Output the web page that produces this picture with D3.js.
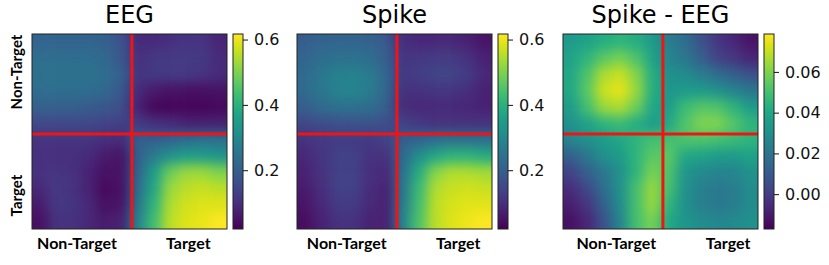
<!DOCTYPE html>
<html>
<head>
<meta charset="utf-8">
<script src="https://cdn.jsdelivr.net/npm/d3@7"></script>
<style>
  body { margin: 0; background: #fff; }
</style>
</head>
<body>
<div id="chart"></div>
<script>
// panel titles and class names
const titles = ["EEG", "Spike", "Spike - EEG"];
const classLabels = ["Non-Target", "Target"];

// boundary between the two classes, in grid cells
const splitAt = 6.15;

// 12x12 similarity matrices (rows top -> bottom)
const eegValues = [
  [0.21, 0.21, 0.21, 0.21, 0.20, 0.17, 0.09, 0.09, 0.10, 0.11, 0.11, 0.08],
  [0.23, 0.23, 0.23, 0.23, 0.22, 0.18, 0.10, 0.12, 0.12, 0.12, 0.12, 0.09],
  [0.24, 0.24, 0.24, 0.24, 0.23, 0.20, 0.11, 0.12, 0.12, 0.12, 0.11, 0.09],
  [0.23, 0.23, 0.23, 0.23, 0.22, 0.18, 0.09, 0.06, 0.05, 0.045, 0.045, 0.05],
  [0.20, 0.20, 0.20, 0.19, 0.18, 0.16, 0.075, 0.03, 0.027, 0.027, 0.027, 0.033],
  [0.15, 0.15, 0.15, 0.15, 0.14, 0.13, 0.12, 0.10, 0.09, 0.075, 0.075, 0.075],
  [0.11, 0.11, 0.11, 0.11, 0.10, 0.09, 0.20, 0.20, 0.21, 0.23, 0.24, 0.24],
  [0.10, 0.10, 0.10, 0.09, 0.06, 0.05, 0.20, 0.27, 0.32, 0.35, 0.35, 0.33],
  [0.105, 0.11, 0.105, 0.075, 0.045, 0.05, 0.21, 0.35, 0.48, 0.525, 0.525, 0.50],
  [0.087, 0.117, 0.105, 0.075, 0.033, 0.045, 0.23, 0.375, 0.525, 0.555, 0.567, 0.555],
  [0.063, 0.117, 0.111, 0.087, 0.045, 0.051, 0.255, 0.405, 0.543, 0.573, 0.585, 0.585],
  [0.045, 0.105, 0.105, 0.087, 0.063, 0.075, 0.285, 0.435, 0.555, 0.585, 0.597, 0.615]
];

const spikeValues = [
  [0.195, 0.207, 0.213, 0.213, 0.207, 0.183, 0.099, 0.087, 0.087, 0.087, 0.075, 0.051],
  [0.213, 0.231, 0.243, 0.243, 0.231, 0.195, 0.111, 0.117, 0.123, 0.123, 0.105, 0.075],
  [0.225, 0.255, 0.279, 0.285, 0.267, 0.213, 0.117, 0.129, 0.141, 0.141, 0.123, 0.087],
  [0.225, 0.255, 0.285, 0.291, 0.267, 0.213, 0.105, 0.105, 0.111, 0.111, 0.099, 0.075],
  [0.195, 0.225, 0.243, 0.243, 0.231, 0.195, 0.093, 0.087, 0.087, 0.087, 0.081, 0.075],
  [0.147, 0.159, 0.165, 0.171, 0.171, 0.159, 0.135, 0.117, 0.105, 0.105, 0.105, 0.105],
  [0.105, 0.117, 0.123, 0.123, 0.117, 0.135, 0.195, 0.213, 0.231, 0.243, 0.243, 0.243],
  [0.087, 0.111, 0.135, 0.135, 0.105, 0.105, 0.225, 0.315, 0.375, 0.405, 0.405, 0.387],
  [0.075, 0.105, 0.135, 0.135, 0.099, 0.087, 0.243, 0.387, 0.507, 0.543, 0.543, 0.531],
  [0.063, 0.099, 0.135, 0.135, 0.093, 0.075, 0.255, 0.423, 0.543, 0.567, 0.573, 0.567],
  [0.051, 0.087, 0.123, 0.123, 0.087, 0.075, 0.267, 0.435, 0.555, 0.579, 0.591, 0.591],
  [0.039, 0.075, 0.105, 0.105, 0.075, 0.075, 0.285, 0.447, 0.555, 0.585, 0.603, 0.615]
];

const diffValues = [
  [0.035, 0.038, 0.042, 0.045, 0.042, 0.035, 0.023, 0.017, 0.007, -0.002, -0.007, -0.012],
  [0.038, 0.045, 0.054, 0.059, 0.052, 0.038, 0.026, 0.021, 0.012, 0.002, -0.002, -0.007],
  [0.040, 0.052, 0.067, 0.071, 0.061, 0.042, 0.031, 0.029, 0.023, 0.017, 0.012, 0.007],
  [0.040, 0.054, 0.071, 0.075, 0.064, 0.042, 0.033, 0.035, 0.035, 0.031, 0.026, 0.021],
  [0.035, 0.050, 0.064, 0.067, 0.057, 0.040, 0.035, 0.048, 0.053, 0.052, 0.045, 0.035],
  [0.031, 0.038, 0.045, 0.048, 0.042, 0.035, 0.040, 0.052, 0.060, 0.060, 0.053, 0.045],
  [0.026, 0.031, 0.035, 0.040, 0.045, 0.050, 0.050, 0.052, 0.052, 0.050, 0.048, 0.045],
  [0.012, 0.021, 0.031, 0.035, 0.045, 0.054, 0.054, 0.040, 0.038, 0.035, 0.035, 0.038],
  [0.002, 0.012, 0.021, 0.031, 0.045, 0.059, 0.052, 0.033, 0.028, 0.026, 0.026, 0.031],
  [-0.005, 0.004, 0.017, 0.031, 0.050, 0.064, 0.050, 0.031, 0.024, 0.021, 0.023, 0.029],
  [-0.009, -0.002, 0.012, 0.029, 0.050, 0.064, 0.045, 0.031, 0.024, 0.021, 0.023, 0.029],
  [-0.013, -0.007, 0.007, 0.026, 0.050, 0.059, 0.040, 0.033, 0.029, 0.027, 0.028, 0.031]
];

// colour limits and colourbar ticks
const eegLimits = [0.02, 0.617];
const spikeLimits = [0.02, 0.617];
const diffLimits = [-0.0171, 0.0786];
const eegTicks = [0.2, 0.4, 0.6];
const spikeTicks = [0.2, 0.4, 0.6];
const diffTicks = [0.00, 0.02, 0.04, 0.06];

// where the class names sit along x (grid units), per panel
const xLabelPos = [[2.77, 9.62], [3.06, 9.92], [3.28, 10.16]];
const yLabelPos = [2.34, 9.94];

const panels = [
  {title: titles[0], values: eegValues, limits: eegLimits, ticks: eegTicks, fmt: ".1f"},
  {title: titles[1], values: spikeValues, limits: spikeLimits, ticks: spikeTicks, fmt: ".1f"},
  {title: titles[2], values: diffValues, limits: diffLimits, ticks: diffTicks, fmt: ".2f"}
];

const W = 829, H = 265;
const panelX = [32, 297, 563];
const plotTop = 34, size = 195;
const cbGap = 201, cbW = 10;
const n = 12;

const svg = d3.select("#chart").append("svg")
    .attr("width", W)
    .attr("height", H)
    .style("font-family", "DejaVu Sans, sans-serif");

const defs = svg.append("defs");
defs.append("filter")
    .attr("id", "smooth")
    .attr("x", "-20%").attr("y", "-20%")
    .attr("width", "140%").attr("height", "140%")
    .attr("color-interpolation-filters", "sRGB")
  .append("feGaussianBlur")
    .attr("stdDeviation", 6);

const pos = d3.scaleLinear().domain([0, n]).range([0, size]);
const band = d3.scaleBand().domain(d3.range(n)).range([0, size]);
const pad = 25;

panels.forEach((p, k) => {
  const g = svg.append("g").attr("transform", `translate(${panelX[k]},${plotTop})`);
  const color = d3.scaleSequential(d3.interpolateViridis).domain(p.limits);

  defs.append("clipPath").attr("id", "clip" + k)
    .append("rect").attr("width", size).attr("height", size);

  const cells = [];
  p.values.forEach((row, i) => row.forEach((v, j) => cells.push({i, j, v})));

  // cells, edge cells stretched outwards so the blur does not fade at the border
  g.append("g").attr("clip-path", `url(#clip${k})`)
    .append("g").attr("filter", "url(#smooth)")
    .selectAll("rect")
    .data(cells)
    .join("rect")
      .attr("x", d => band(d.j) - (d.j === 0 ? pad : 0))
      .attr("y", d => band(d.i) - (d.i === 0 ? pad : 0))
      .attr("width", d => band.bandwidth() + 0.5 + (d.j === 0 || d.j === n - 1 ? pad : 0))
      .attr("height", d => band.bandwidth() + 0.5 + (d.i === 0 || d.i === n - 1 ? pad : 0))
      .attr("fill", d => color(d.v));

  // class boundaries
  g.append("line")
      .attr("x1", pos(splitAt)).attr("x2", pos(splitAt))
      .attr("y1", 0).attr("y2", size)
      .attr("stroke", "#f01414").attr("stroke-width", 3);
  g.append("line")
      .attr("x1", 0).attr("x2", size)
      .attr("y1", pos(splitAt)).attr("y2", pos(splitAt))
      .attr("stroke", "#f01414").attr("stroke-width", 3);

  g.append("rect")
      .attr("width", size).attr("height", size)
      .attr("fill", "none").attr("stroke", "#222").attr("stroke-width", 1);

  // title
  g.append("text")
      .attr("x", size / 2).attr("y", -11)
      .attr("text-anchor", "middle")
      .style("font-size", "24px")
      .text(p.title);

  // class names under the matrix
  g.selectAll(".xlab")
    .data(classLabels)
    .join("text")
      .attr("class", "xlab")
      .attr("x", (d, m) => pos(xLabelPos[k][m]))
      .attr("y", 214.5)
      .attr("text-anchor", "middle")
      .style("font-family", "Lato, sans-serif")
      .style("font-weight", "bold")
      .style("font-size", "16px")
      .text(d => d);

  if (k === 0) {
    g.selectAll(".ylab")
      .data(classLabels)
      .join("text")
        .attr("class", "ylab")
        .attr("transform", (d, m) => `translate(-10.5,${pos(yLabelPos[m])}) rotate(-90)`)
        .attr("text-anchor", "middle")
        .style("font-family", "Lato, sans-serif")
        .style("font-weight", "bold")
        .style("font-size", "15px")
        .text(d => d);
  }

  // colourbar
  const gradId = "grad" + k;
  const grad = defs.append("linearGradient").attr("id", gradId)
      .attr("x1", 0).attr("y1", 1).attr("x2", 0).attr("y2", 0);
  d3.range(0, 1.0001, 0.05).forEach(t => {
    grad.append("stop").attr("offset", t).attr("stop-color", d3.interpolateViridis(t));
  });

  const cb = g.append("g").attr("transform", `translate(${cbGap},0)`);
  cb.append("rect")
      .attr("width", cbW).attr("height", size)
      .attr("fill", `url(#${gradId})`)
      .attr("stroke", "#222").attr("stroke-width", 1);

  const yCb = d3.scaleLinear().domain(p.limits).range([size, 0]);
  const axis = cb.append("g")
      .attr("transform", `translate(${cbW},0)`)
      .call(d3.axisRight(yCb).tickValues(p.ticks).tickFormat(d3.format(p.fmt)).tickSize(5).tickPadding(6));
  axis.select(".domain").remove();
  axis.selectAll("text")
      .style("font-family", "DejaVu Sans, sans-serif")
      .style("font-size", "16px")
      .attr("fill", "#111");
  axis.selectAll("line").attr("stroke", "#111");
});
</script>
</body>
</html>
